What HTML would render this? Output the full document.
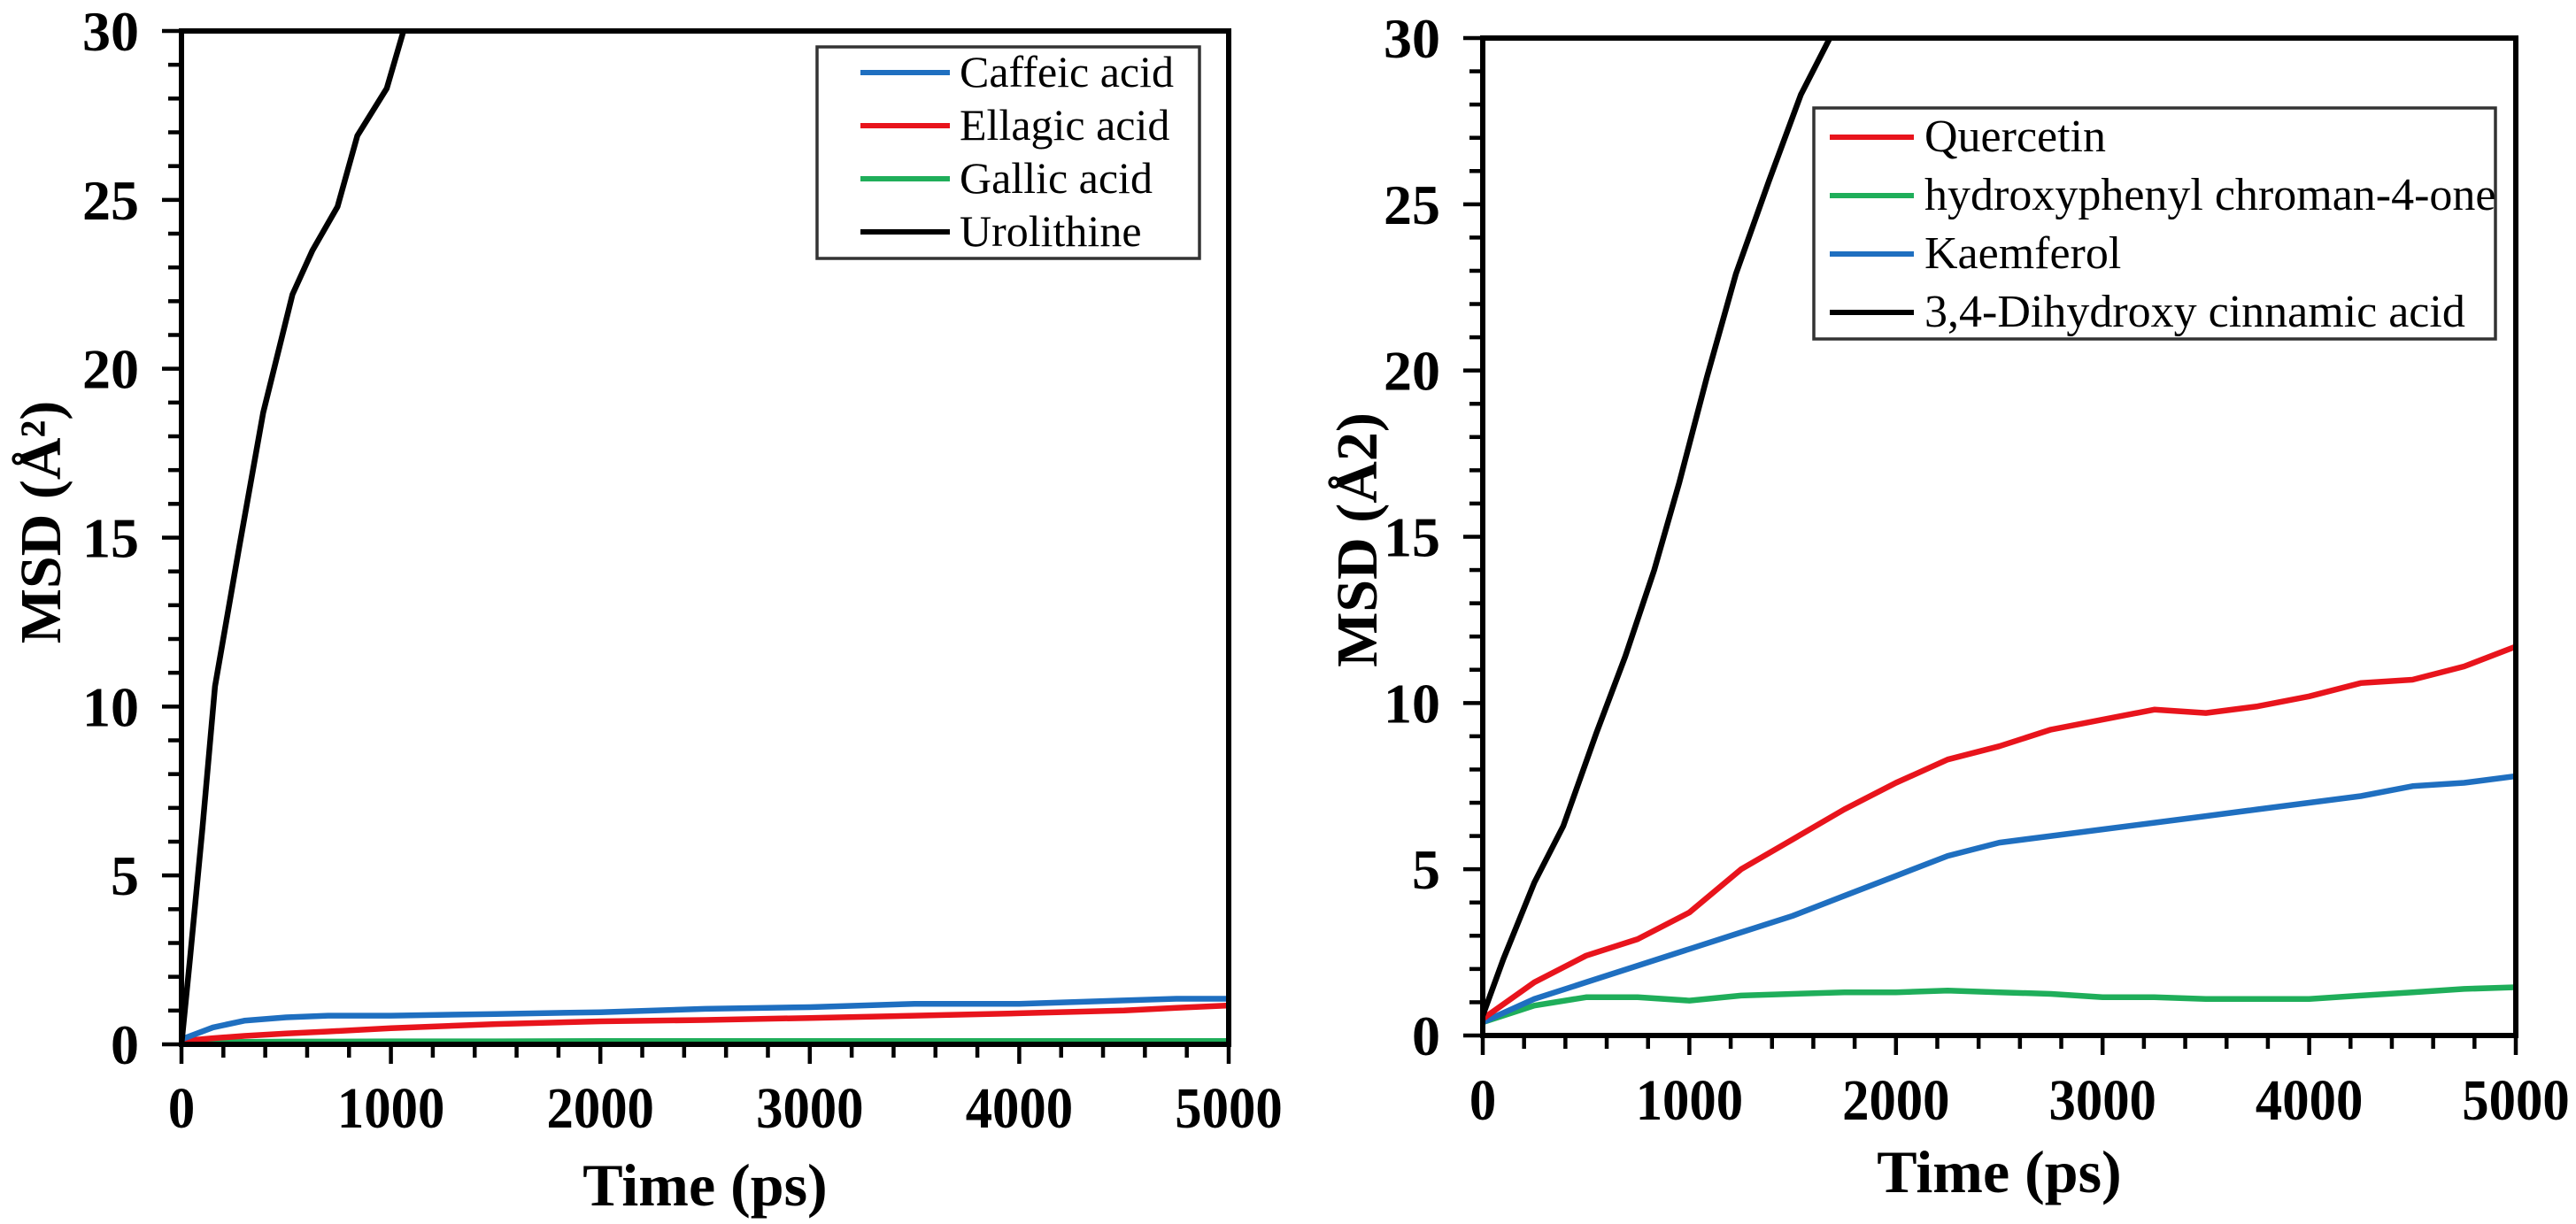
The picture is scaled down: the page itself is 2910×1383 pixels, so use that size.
<!DOCTYPE html>
<html><head><meta charset="utf-8"><style>
html,body{margin:0;padding:0;background:#fff;}
svg{display:block;}
text{font-family:"Liberation Serif",serif;fill:#000;}
</style></head><body>
<svg id="chart" width="2910" height="1383" viewBox="0 0 2910 1383" xmlns="http://www.w3.org/2000/svg"></svg>
<script>
// ---- Data: left panel ----
const leftBlackT = [0,40,100,160,275,390,530,625,745,840,980,1060];
const leftBlackV = [0,2.5,6.4,10.6,14.7,18.7,22.2,23.5,24.8,26.9,28.3,30];
const leftT = [0,150,300,500,700,1000,1500,2000,2500,3000,3500,4000,4500,4750,5000];
const caffeicV = [0.15,0.5,0.7,0.8,0.85,0.85,0.9,0.95,1.05,1.1,1.2,1.2,1.3,1.35,1.35];
const ellagicV = [0.1,0.18,0.25,0.32,0.38,0.48,0.6,0.68,0.72,0.78,0.85,0.92,1.0,1.08,1.15];
const gallicV = [0.05,0.06,0.07,0.08,0.08,0.09,0.09,0.1,0.1,0.1,0.1,0.1,0.1,0.1,0.1];
// ---- Data: right panel ----
const rightT = [0,250,500,750,1000,1250,1500,1750,2000,2250,2500,2750,3000,3250,3500,3750,4000,4250,4500,4750,5000];
const quercetinV = [0.5,1.6,2.4,2.9,3.7,5.0,5.9,6.8,7.6,8.3,8.7,9.2,9.5,9.8,9.7,9.9,10.2,10.6,10.7,11.1,11.7];
const kaemferolV = [0.4,1.1,1.6,2.1,2.6,3.1,3.6,4.2,4.8,5.4,5.8,6.0,6.2,6.4,6.6,6.8,7.0,7.2,7.5,7.6,7.8];
const chromanV = [0.4,0.9,1.15,1.15,1.05,1.2,1.25,1.3,1.3,1.35,1.3,1.25,1.15,1.15,1.1,1.1,1.1,1.2,1.3,1.4,1.45];
const rightBlackT = [0,100,250,390,550,690,830,950,1085,1225,1385,1540,1680];
const rightBlackV = [0.6,2.3,4.6,6.3,9.1,11.4,14.0,16.6,19.8,22.9,25.7,28.3,30];
const xTicks = [0,1000,2000,3000,4000,5000];
const yTicks = [0,5,10,15,20,25,30];

const NS="http://www.w3.org/2000/svg";
const svg=document.getElementById('chart');
function mk(tag,attrs,parent){const e=document.createElementNS(NS,tag);for(const k in attrs)e.setAttribute(k,attrs[k]);(parent||svg).appendChild(e);return e;}

function panel(P){
  const g=mk('g',{});
  
  
  const sx=t=>P.x0+(t/5000)*(P.x1-P.x0);
  const sy=v=>P.y1-(v/30)*(P.y1-P.y0);
  const cp=mk('clipPath',{id:P.name+'-clip'},g);
  mk('rect',{x:P.x0,y:P.y0,width:P.x1-P.x0,height:P.y1-P.y0},cp);
  P.series.forEach(s=>{
    const d=s.t.map((t,i)=>(i?'L':'M')+sx(t).toFixed(1)+','+sy(s.v[i]).toFixed(1)).join(' ');
    const p=mk('path',{d:d,fill:'none',stroke:s.color,'stroke-width':6.5,'stroke-linejoin':'round','stroke-linecap':'round','clip-path':'url(#'+P.name+'-clip)'},g);
    
    
  });
  const fr=mk('rect',{x:P.x0,y:P.y0,width:P.x1-P.x0,height:P.y1-P.y0,fill:'none',stroke:'#000','stroke-width':6},g);
  
  
  for(let v=0;v<=30;v++){
    const major=v%5===0;
    mk('line',{x1:P.x0-(major?22:15),x2:P.x0,y1:sy(v),y2:sy(v),stroke:'#000','stroke-width':4.5},g);
  }
  yTicks.forEach(v=>{
    const t=mk('text',{x:P.x0-48,y:sy(v)+22,'text-anchor':'end','font-size':64,'font-weight':'bold',transform:'',},g);
    t.textContent=v;
    
    
  });
  for(let t=0;t<=5000;t+=200){
    const major=t%1000===0;
    mk('line',{x1:sx(t),x2:sx(t),y1:P.y1,y2:P.y1+(major?22:15),stroke:'#000','stroke-width':4.5},g);
  }
  xTicks.forEach(t=>{
    const e=mk('text',{x:0,y:0,transform:'translate('+sx(t)+','+P.xly+') scale(0.92,1)','text-anchor':'middle','font-size':66,'font-weight':'bold'},g);
    e.textContent=t;
    
    
  });
  const xt=mk('text',{x:(P.x0+P.x1)/2,y:P.xty,'text-anchor':'middle','font-size':68,'font-weight':'bold'},g);
  xt.textContent='Time (ps)';
  
  
  const yt=mk('text',{x:0,y:0,transform:'translate('+P.ytx+','+P.yty+') rotate(-90)','text-anchor':'middle','font-size':66,'font-weight':'bold'},g);
  yt.textContent=P.ytitle;
  
  
  const L=P.legend;
  const lg=mk('g',{},g);
  
  
  mk('rect',{x:L.x,y:L.y,width:L.w,height:L.h,fill:'#fff',stroke:'#333','stroke-width':3.5},lg);
  L.items.forEach((it,i)=>{
    const cy=L.row0+i*L.dy;
    const e=mk('g',{},lg);
    
    
    mk('line',{x1:L.lx0,x2:L.lx1,y1:cy,y2:cy,stroke:it.color,'stroke-width':6},e);
    const tx=mk('text',{x:L.tx,y:cy+16,'font-size':L.fs},e);
    tx.textContent=it.label;
  });
}

const BLUE='#1f6fc0',RED='#e8141c',GREEN='#1fae5a',BLACK='#000';
panel({name:'left-panel',x0:205,x1:1388,y0:35,y1:1180,xly:1274,xty:1362,ytx:68,yty:590,ytitle:'MSD (Å²)',
  series:[
    {id:'gallic-acid',t:leftT,v:gallicV,color:GREEN},
    {id:'ellagic-acid',t:leftT,v:ellagicV,color:RED},
    {id:'caffeic-acid',t:leftT,v:caffeicV,color:BLUE},
    {id:'urolithine',t:leftBlackT,v:leftBlackV,color:BLACK}],
  legend:{x:923,y:53,w:432,h:239,row0:82,dy:60,lx0:972,lx1:1073,tx:1084,fs:50,
    items:[{label:'Caffeic acid',color:BLUE},{label:'Ellagic acid',color:RED},{label:'Gallic acid',color:GREEN},{label:'Urolithine',color:BLACK}]}
});
panel({name:'right-panel',x0:1675,x1:2842,y0:43,y1:1170,xly:1265,xty:1347,ytx:1555,yty:610,ytitle:'MSD (Å2)',
  series:[
    {id:'chroman',t:rightT,v:chromanV,color:GREEN},
    {id:'kaemferol',t:rightT,v:kaemferolV,color:BLUE},
    {id:'quercetin',t:rightT,v:quercetinV,color:RED},
    {id:'dihydroxy-cinnamic-acid',t:rightBlackT,v:rightBlackV,color:BLACK}],
  legend:{x:2049,y:122,w:770,h:261,row0:155,dy:66,lx0:2067,lx1:2162,tx:2174,fs:52,
    items:[{label:'Quercetin',color:RED},{label:'hydroxyphenyl chroman-4-one',color:GREEN},{label:'Kaemferol',color:BLUE},{label:'3,4-Dihydroxy cinnamic acid',color:BLACK}]}
});
</script>
</body></html>
